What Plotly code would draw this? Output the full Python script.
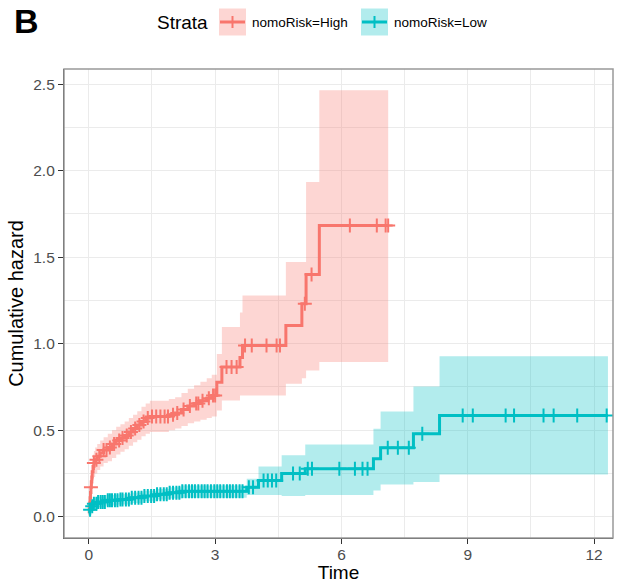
import plotly.graph_objects as go

# ---------------- data ----------------
high_time = [0, 0.01, 0.02, 0.03, 0.04, 0.05, 0.06, 0.07, 0.08, 0.10, 0.12, 0.15, 0.20, 0.27,
             0.35, 0.45, 0.55, 0.65, 0.75, 0.85, 0.95, 1.05, 1.15, 1.25, 1.35, 1.45, 1.90,
             2.05, 2.20, 2.35, 2.50, 2.65, 2.80, 2.92, 3.04, 3.16, 3.59, 3.65, 4.68, 5.06,
             5.16, 5.475]
high_haz = [0.02, 0.05, 0.08, 0.11, 0.14, 0.17, 0.20, 0.23, 0.26, 0.29, 0.31, 0.33, 0.35, 0.37,
            0.385, 0.40, 0.42, 0.44, 0.455, 0.47, 0.49, 0.51, 0.53, 0.55, 0.57, 0.58, 0.59,
            0.60, 0.62, 0.64, 0.655, 0.67, 0.685, 0.70, 0.778, 0.865, 0.92, 0.99, 1.106, 1.231,
            1.40, 1.684]
high_lower = [0.0, 0.01, 0.03, 0.05, 0.08, 0.10, 0.13, 0.16, 0.18, 0.21, 0.23, 0.25, 0.27, 0.29,
              0.31, 0.32, 0.34, 0.36, 0.375, 0.39, 0.41, 0.43, 0.445, 0.465, 0.48, 0.49, 0.50,
              0.51, 0.525, 0.54, 0.55, 0.56, 0.57, 0.58, 0.614, 0.672, 0.70, 0.70, 0.769, 0.80,
              0.845, 0.894]
high_upper = [0.05, 0.10, 0.14, 0.17, 0.20, 0.24, 0.27, 0.30, 0.33, 0.36, 0.38, 0.40, 0.42, 0.44,
              0.46, 0.48, 0.50, 0.52, 0.535, 0.55, 0.57, 0.59, 0.61, 0.635, 0.655, 0.67, 0.68,
              0.69, 0.715, 0.74, 0.76, 0.78, 0.80, 0.82, 0.94, 1.096, 1.18, 1.279, 1.472, 1.472,
              1.935, 2.465]
high_end = 7.11
high_censor = [0.05, 0.12, 0.18, 0.25, 0.35, 0.42, 0.50, 0.60, 0.72, 0.80, 0.90, 1.00, 1.10,
               1.20, 1.30, 1.40, 1.50, 1.60, 1.70, 1.80, 1.88, 2.00, 2.10, 2.25, 2.40, 2.55,
               2.60, 2.70, 2.85, 2.95, 3.00, 3.27, 3.39, 3.51, 3.71, 3.87, 4.22, 4.46, 4.54,
               5.13, 5.29, 6.20, 6.84, 7.05, 7.11]

low_time = [0, 0.02, 0.05, 0.10, 0.20, 0.40, 0.70, 1.00, 1.30, 1.60, 1.90, 2.20, 3.75, 4.03,
            4.58, 5.14, 6.76, 6.93, 7.71, 8.33]
low_haz = [0.02, 0.04, 0.06, 0.075, 0.085, 0.095, 0.10, 0.11, 0.12, 0.13, 0.138, 0.147, 0.17,
           0.21, 0.25, 0.277, 0.335, 0.398, 0.48, 0.585]
low_lower = [0.0, 0.01, 0.03, 0.045, 0.055, 0.065, 0.07, 0.08, 0.09, 0.10, 0.105, 0.11, 0.125,
             0.125, 0.12, 0.125, 0.152, 0.186, 0.20, 0.244]
low_upper = [0.04, 0.07, 0.09, 0.105, 0.115, 0.125, 0.13, 0.14, 0.15, 0.16, 0.17, 0.18, 0.22,
             0.29, 0.356, 0.418, 0.508, 0.608, 0.753, 0.928]
low_end = 12.33
low_censor = [0.03, 0.08, 0.12, 0.18, 0.22, 0.28, 0.33, 0.38, 0.45, 0.50, 0.55, 0.62, 0.68, 0.75,
              0.80, 0.88, 0.95, 1.02, 1.10, 1.18, 1.25, 1.32, 1.40, 1.48, 1.55, 1.62, 1.70, 1.78,
              1.85, 1.92, 2.00, 2.08, 2.15, 2.22, 2.30, 2.38, 2.45, 2.52, 2.60, 2.68, 2.75, 2.82,
              2.90, 2.98, 3.05, 3.12, 3.20, 3.28, 3.35, 3.42, 3.50, 3.58, 3.65, 3.80, 3.90, 4.15,
              4.25, 4.35, 4.45, 4.85, 5.01, 5.20, 5.30, 5.95, 6.32, 6.50, 6.62, 7.10, 7.34, 7.60,
              7.92, 8.88, 9.12, 9.90, 10.10, 10.80, 11.04, 11.60, 12.30]

strata_names = ["nomoRisk=High", "nomoRisk=Low"]
x_ticks = [0, 3, 6, 9, 12]
y_ticks = [0.0, 0.5, 1.0, 1.5, 2.0, 2.5]
y_tick_labels = ["0.0", "0.5", "1.0", "1.5", "2.0", "2.5"]

# ---------------- helpers ----------------
def step_xy(t, v, end):
    xs, ys = [], []
    for i in range(len(t)):
        if i > 0:
            xs.append(t[i]); ys.append(v[i - 1])
        xs.append(t[i]); ys.append(v[i])
    xs.append(end); ys.append(v[-1])
    return xs, ys

def value_at(t, v, c):
    val = v[0]
    for ti, vi in zip(t, v):
        if ti <= c:
            val = vi
    return val

RED = "#F8766D"
TEAL = "#00BFC4"
RED_FILL = "rgba(248,118,109,0.3)"
TEAL_FILL = "rgba(0,191,196,0.3)"

fig = go.Figure()

groups = [
    (high_time, high_haz, high_lower, high_upper, high_end, high_censor, RED, RED_FILL, strata_names[0]),
    (low_time, low_haz, low_lower, low_upper, low_end, low_censor, TEAL, TEAL_FILL, strata_names[1]),
]

for t, h, lo, up, end, cens, col, fcol, name in groups:
    ux, uy = step_xy(t, up, end)
    lx, ly = step_xy(t, lo, end)
    fig.add_trace(go.Scatter(x=ux + lx[::-1], y=uy + ly[::-1], fill="toself", fillcolor=fcol,
                             line=dict(width=0), mode="lines", hoverinfo="skip", showlegend=False))
for t, h, lo, up, end, cens, col, fcol, name in groups:
    sx, sy = step_xy(t, h, end)
    fig.add_trace(go.Scatter(x=sx, y=sy, mode="lines", line=dict(color=col, width=3),
                             name=name, showlegend=False))
    fig.add_trace(go.Scatter(x=cens, y=[value_at(t, h, c) for c in cens], mode="markers",
                             marker=dict(symbol="cross-thin", size=10, line=dict(color=col, width=2)),
                             showlegend=False, hoverinfo="skip"))

# ---------------- layout ----------------
W, H = 617, 583
ML, MR, MT, MB = 64, 4, 69, 45
PW, PH = W - ML - MR, H - MT - MB

def px(xp):
    return (xp - ML) / PW

def py(yp):
    return (H - MB - yp) / PH

FONT = "Liberation Sans, Arial, sans-serif"

fig.update_layout(
    width=W, height=H,
    margin=dict(l=ML, r=MR, t=MT, b=MB, pad=0),
    paper_bgcolor="white", plot_bgcolor="white",
    font=dict(family=FONT, color="black"),
    showlegend=False,
)
fig.update_xaxes(
    range=[-0.59, 12.45], tickvals=x_ticks, ticktext=[str(v) for v in x_ticks],
    showgrid=True, gridcolor="#EBEBEB", gridwidth=1.2,
    minor=dict(dtick=1.5, tick0=0, showgrid=True, gridcolor="#EBEBEB", gridwidth=0.8),
    zeroline=False, showline=True, linecolor="#333333", linewidth=1.2,
    ticks="outside", ticklen=5, tickcolor="#333333", tickwidth=1,
    tickfont=dict(size=15.5, color="#4D4D4D"), ticklabelstandoff=-3,
    title=dict(text="Time", font=dict(size=19, color="black"), standoff=5),
    automargin=False,
)
fig.update_yaxes(
    range=[-0.123, 2.588], tickvals=y_ticks, ticktext=y_tick_labels,
    showgrid=True, gridcolor="#EBEBEB", gridwidth=1.2,
    minor=dict(dtick=0.25, tick0=0, showgrid=True, gridcolor="#EBEBEB", gridwidth=0.8),
    zeroline=False, showline=True, linecolor="#333333", linewidth=1.2,
    ticks="outside", ticklen=5, tickcolor="#333333", tickwidth=1,
    tickfont=dict(size=15.5, color="#4D4D4D"),
    title=dict(text="Cumulative hazard", font=dict(size=20, color="black"), standoff=4),
    automargin=False,
)

shapes = []
shapes.append(dict(type="rect", xref="paper", yref="paper", x0=0, x1=1, y0=0, y1=1,
                   line=dict(color="#999999", width=1.5), fillcolor="rgba(0,0,0,0)", layer="above"))

annotations = []
annotations.append(dict(text="<b>B</b>", x=px(12), y=py(21), xref="paper", yref="paper",
                        xanchor="left", yanchor="middle", showarrow=False,
                        font=dict(size=34, color="black", family=FONT)))
annotations.append(dict(text="Strata", x=px(155), y=py(22), xref="paper", yref="paper",
                        xanchor="left", yanchor="middle", showarrow=False,
                        font=dict(size=19, color="black", family=FONT)))

legend_items = [(219, strata_names[0], RED, RED_FILL), (361, strata_names[1], TEAL, TEAL_FILL)]
for x0, name, col, fcol in legend_items:
    bw = 27
    shapes.append(dict(type="rect", xref="paper", yref="paper", x0=px(x0), x1=px(x0 + bw),
                       y0=py(22 + bw / 2), y1=py(22 - bw / 2), fillcolor=fcol, line=dict(width=0)))
    shapes.append(dict(type="line", xref="paper", yref="paper", x0=px(x0 + 1), x1=px(x0 + bw - 1),
                       y0=py(22), y1=py(22), line=dict(color=col, width=3)))
    shapes.append(dict(type="line", xref="paper", yref="paper", x0=px(x0 + bw / 2), x1=px(x0 + bw / 2),
                       y0=py(16), y1=py(28), line=dict(color=col, width=2)))
    annotations.append(dict(text=name, x=px(x0 + bw + 4), y=py(22), xref="paper", yref="paper",
                            xanchor="left", yanchor="middle", showarrow=False,
                            font=dict(size=13.5, color="black", family=FONT)))

fig.update_layout(shapes=shapes, annotations=annotations)

fig.write_html("out.html", config={"displayModeBar": False},
               post_script="document.body.style.margin='0';document.body.style.overflow='hidden';")
